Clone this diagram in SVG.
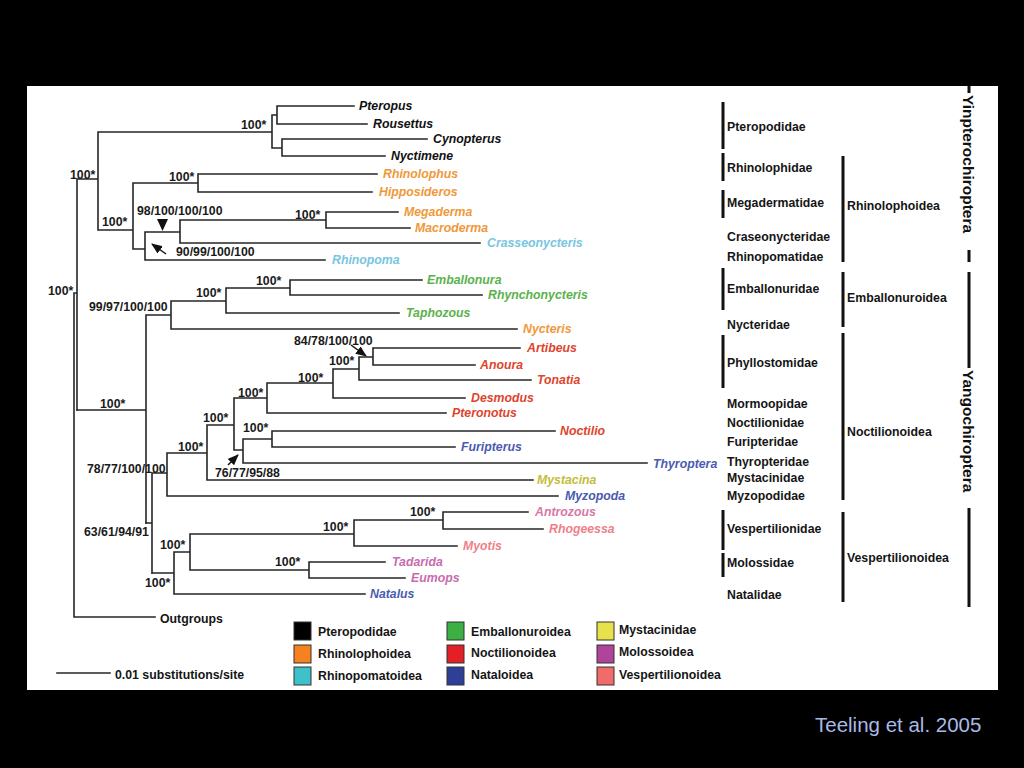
<svg xmlns="http://www.w3.org/2000/svg" width="1024" height="768" viewBox="0 0 1024 768">
<defs>
<style>
.t{font-family:"Liberation Sans",Arial,sans-serif;font-weight:bold;font-size:12.3px;fill:#151515}
.i{font-style:italic}
.s{font-family:"Liberation Sans",Arial,sans-serif;font-weight:bold;font-size:12.3px;fill:#1a1a1a}
.br{fill:none;stroke:#262626;stroke-width:1.6;stroke-linecap:square}
.bar{stroke:#111;stroke-width:3;fill:none}
.sq{stroke:#333;stroke-width:1}
.ar{stroke:#111;stroke-width:1.5;fill:none}
.big{font-family:"Liberation Sans",Arial,sans-serif;font-weight:bold;font-size:15.5px;fill:#111}
.k{fill:#111}.o{fill:#f0983a}.c{fill:#78c6df}.g{fill:#5ab24c}.r{fill:#e0442c}.b{fill:#4a5bb0}.y{fill:#c4bd3c}.m{fill:#c86cad}.p{fill:#ef7f88}.pa{fill:#d877a6}
</style>
<marker id="ah" markerWidth="11" markerHeight="9" refX="10" refY="4.5" orient="auto" markerUnits="userSpaceOnUse"><path d="M0,0 L11,4.5 L0,9 z" fill="#111"/></marker>
</defs>
<rect x="0" y="0" width="1024" height="768" fill="#000"/>
<rect x="27" y="86" width="971" height="604" fill="#fff"/>

<g id="connectors">
<path class="br" d="M74 293 V617 H155 M74 293 H77 M77 179 V410 M77 179 H98 M98 132 V230 M98 132 H272 M272 115 V148 M272 115 H277 M277 106 V124 M277 106 H354 M277 124 H367 M272 148 H282 M282 139 V156 M282 139 H427 M282 156 H385 M98 230 H133 M133 183 V249 M133 183 H198 M198 174 V192 M198 174 H377 M198 192 H372 M133 249 H145 M145 232 V260 M145 260 H325 M145 232 H180 M180 220 V243 M180 243 H480 M180 220 H326 M326 212 V228 M326 212 H398 M326 228 H410"/>
<path class="br" d="M77 410 H146 M146 315 V523 M146 315 H171 M171 301 V329 M171 329 H517 M171 301 H226 M226 288 V313 M226 313 H399 M226 288 H290 M290 280 V295 M290 280 H422 M290 295 H482"/>
<path class="br" d="M146 523 H152 M152 473 V573 M152 473 H167 M167 453 V496 M167 496 H558 M167 453 H207 M207 425 V480 M207 480 H533 M207 425 H234 M234 398 V450 M234 398 H267 M267 383 V413 M267 413 H446 M267 383 H333 M333 369 V398 M333 398 H465 M333 369 H359 M359 357 V380 M359 380 H531 M359 357 H373 M373 348 V365 M373 348 H520 M373 365 H475 M234 450 H243 M243 439 V463 M243 463 H647 M243 439 H272 M272 431 V447 M272 431 H555 M272 447 H455"/>
<path class="br" d="M152 573 H174 M174 552 V594 M174 594 H365 M174 552 H190 M190 534 V570 M190 534 H354 M354 520 V546 M354 546 H457 M354 520 H443 M443 512 V529 M443 512 H528 M443 529 H543 M190 570 H309 M309 562 V578 M309 562 H385 M309 578 H405"/>
<path d="M57 673 H110" class="br"/>
<polygon points="157,219 168,219 162.5,231" fill="#111"/>
<path class="ar" d="M166 254 L152 244" marker-end="url(#ah)"/>
<path class="ar" d="M351 345 L366 356" marker-end="url(#ah)"/>
<path class="ar" d="M228 465 L238 455" marker-end="url(#ah)"/>
</g>

<g id="support">
<text class="s" x="48" y="294.5">100*</text>
<text class="s" x="70" y="178.5">100*</text>
<text class="s" x="241" y="128.5">100*</text>
<text class="s" x="169" y="180.5">100*</text>
<text class="s" x="102" y="225.5">100*</text>
<text class="s" x="137" y="214.5">98/100/100/100</text>
<text class="s" x="295" y="218.5">100*</text>
<text class="s" x="176" y="255.5">90/99/100/100</text>
<text class="s" x="89" y="310.5">99/97/100/100</text>
<text class="s" x="196" y="296.5">100*</text>
<text class="s" x="256" y="284.5">100*</text>
<text class="s" x="100" y="407.5">100*</text>
<text class="s" x="294" y="344.5">84/78/100/100</text>
<text class="s" x="329" y="364.5">100*</text>
<text class="s" x="298" y="381.5">100*</text>
<text class="s" x="203" y="421.5">100*</text>
<text class="s" x="238" y="396.5">100*</text>
<text class="s" x="243" y="431.5">100*</text>
<text class="s" x="178" y="450.5">100*</text>
<text class="s" x="215" y="476.5">76/77/95/88</text>
<text class="s" x="87" y="472.5">78/77/100/100</text>
<text class="s" x="84" y="535.5">63/61/94/91</text>
<text class="s" x="160" y="548.5">100*</text>
<text class="s" x="145" y="586.5">100*</text>
<text class="s" x="410" y="515.5">100*</text>
<text class="s" x="323" y="530.5">100*</text>
<text class="s" x="275" y="565.5">100*</text>
</g>

<g id="taxa">
<g id="Pteropus"><text class="t i k" x="359" y="110">Pteropus</text></g>
<g id="Rousettus"><text class="t i k" x="373" y="128">Rousettus</text></g>
<g id="Cynopterus"><text class="t i k" x="433" y="143">Cynopterus</text></g>
<g id="Nyctimene"><text class="t i k" x="391" y="160">Nyctimene</text></g>
<g id="Rhinolophus"><text class="t i o" x="383" y="178">Rhinolophus</text></g>
<g id="Hipposideros"><text class="t i o" x="379" y="196">Hipposideros</text></g>
<g id="Megaderma"><text class="t i o" x="404" y="216">Megaderma</text></g>
<g id="Macroderma"><text class="t i o" x="415" y="232">Macroderma</text></g>
<g id="Crasseonycteris"><text class="t i c" x="487" y="247">Crasseonycteris</text></g>
<g id="Rhinopoma"><text class="t i c" x="332" y="264">Rhinopoma</text></g>
<g id="Emballonura"><text class="t i g" x="427" y="284">Emballonura</text></g>
<g id="Rhynchonycteris"><text class="t i g" x="488" y="299">Rhynchonycteris</text></g>
<g id="Taphozous"><text class="t i g" x="406" y="317">Taphozous</text></g>
<g id="Nycteris"><text class="t i o" x="523" y="333">Nycteris</text></g>
<g id="Artibeus"><text class="t i r" x="527" y="352">Artibeus</text></g>
<g id="Anoura"><text class="t i r" x="480" y="369">Anoura</text></g>
<g id="Tonatia"><text class="t i r" x="537" y="384">Tonatia</text></g>
<g id="Desmodus"><text class="t i r" x="471" y="402">Desmodus</text></g>
<g id="Pteronotus"><text class="t i r" x="452" y="417">Pteronotus</text></g>
<g id="Noctilio"><text class="t i r" x="560" y="435">Noctilio</text></g>
<g id="Furipterus"><text class="t i b" x="461" y="451">Furipterus</text></g>
<g id="Thyroptera"><text class="t i b" x="653" y="468">Thyroptera</text></g>
<g id="Mystacina"><text class="t i y" x="537" y="484">Mystacina</text></g>
<g id="Myzopoda"><text class="t i b" x="565" y="500">Myzopoda</text></g>
<g id="Antrozous"><text class="t i pa" x="535" y="516">Antrozous</text></g>
<g id="Rhogeessa"><text class="t i p" x="549" y="533">Rhogeessa</text></g>
<g id="Myotis"><text class="t i p" x="463" y="550">Myotis</text></g>
<g id="Tadarida"><text class="t i m" x="392" y="566">Tadarida</text></g>
<g id="Eumops"><text class="t i m" x="411" y="582">Eumops</text></g>
<g id="Natalus"><text class="t i b" x="370" y="598">Natalus</text></g>
<g id="Outgroups"><text class="t" x="160" y="623">Outgroups</text></g>
</g>

<g id="families">
<path class="bar" d="M723 102 V149 M723 153 V181 M723 190 V218 M723 268 V310 M723 335 V388 M723 510 V550 M723 553 V577"/>
<text class="t" x="727" y="130.5">Pteropodidae</text>
<text class="t" x="727" y="171.5">Rhinolophidae</text>
<text class="t" x="727" y="206.5">Megadermatidae</text>
<text class="t" x="727" y="240.5">Craseonycteridae</text>
<text class="t" x="727" y="260.5">Rhinopomatidae</text>
<text class="t" x="727" y="292.5">Emballonuridae</text>
<text class="t" x="727" y="328.5">Nycteridae</text>
<text class="t" x="727" y="366.5">Phyllostomidae</text>
<text class="t" x="727" y="407.5">Mormoopidae</text>
<text class="t" x="727" y="426.5">Noctilionidae</text>
<text class="t" x="727" y="445.5">Furipteridae</text>
<text class="t" x="727" y="465.5">Thyropteridae</text>
<text class="t" x="727" y="481.5">Mystacinidae</text>
<text class="t" x="727" y="500">Myzopodidae</text>
<text class="t" x="727" y="532.5">Vespertilionidae</text>
<text class="t" x="727" y="566.5">Molossidae</text>
<text class="t" x="727" y="598.5">Natalidae</text>
</g>

<g id="superfamilies">
<path class="bar" d="M843 156 V262 M843 272 V327 M843 333 V500 M843 512 V602"/>
<text class="t" x="847" y="209.5">Rhinolophoidea</text>
<text class="t" x="847" y="301.5">Emballonuroidea</text>
<text class="t" x="847" y="435.5">Noctilionoidea</text>
<text class="t" x="847" y="561.5">Vespertilionoidea</text>
</g>

<g id="suborders">
<path class="bar" d="M969 86 V93 M969 250 V262 M969 272 V368 M969 508 V607"/>
<text class="big" transform="translate(963,95) rotate(90)">Yinpterochiroptera</text>
<text class="big" transform="translate(963,370) rotate(90)">Yangochiroptera</text>
</g>

<g id="legend">
<rect class="sq" x="294" y="622" width="17" height="18" fill="#000"/>
<rect class="sq" x="294" y="645" width="17" height="18" fill="#f5821f"/>
<rect class="sq" x="294" y="667" width="17" height="18" fill="#3ec1c9"/>
<rect class="sq" x="447" y="622" width="17" height="18" fill="#3cb043"/>
<rect class="sq" x="447" y="645" width="17" height="18" fill="#e41f26"/>
<rect class="sq" x="447" y="667" width="17" height="18" fill="#2e3f98"/>
<rect class="sq" x="597" y="622" width="17" height="18" fill="#e8e14a"/>
<rect class="sq" x="597" y="645" width="17" height="18" fill="#b0449b"/>
<rect class="sq" x="597" y="667" width="17" height="18" fill="#f26b6b"/>
<text class="t" x="318" y="635.5">Pteropodidae</text>
<text class="t" x="318" y="657.5">Rhinolophoidea</text>
<text class="t" x="318" y="679.5">Rhinopomatoidea</text>
<text class="t" x="471" y="635.5">Emballonuroidea</text>
<text class="t" x="471" y="656.5">Noctilionoidea</text>
<text class="t" x="471" y="678.5">Nataloidea</text>
<text class="t" x="619" y="633.5">Mystacinidae</text>
<text class="t" x="619" y="655.5">Molossoidea</text>
<text class="t" x="619" y="678.5">Vespertilionoidea</text>
<text class="t" x="115" y="678.5">0.01 substitutions/site</text>
</g>

<text x="815" y="732" font-family="'Liberation Sans',Arial,sans-serif" font-size="20.5" fill="#a9b9e6">Teeling et al. 2005</text>
</svg>
